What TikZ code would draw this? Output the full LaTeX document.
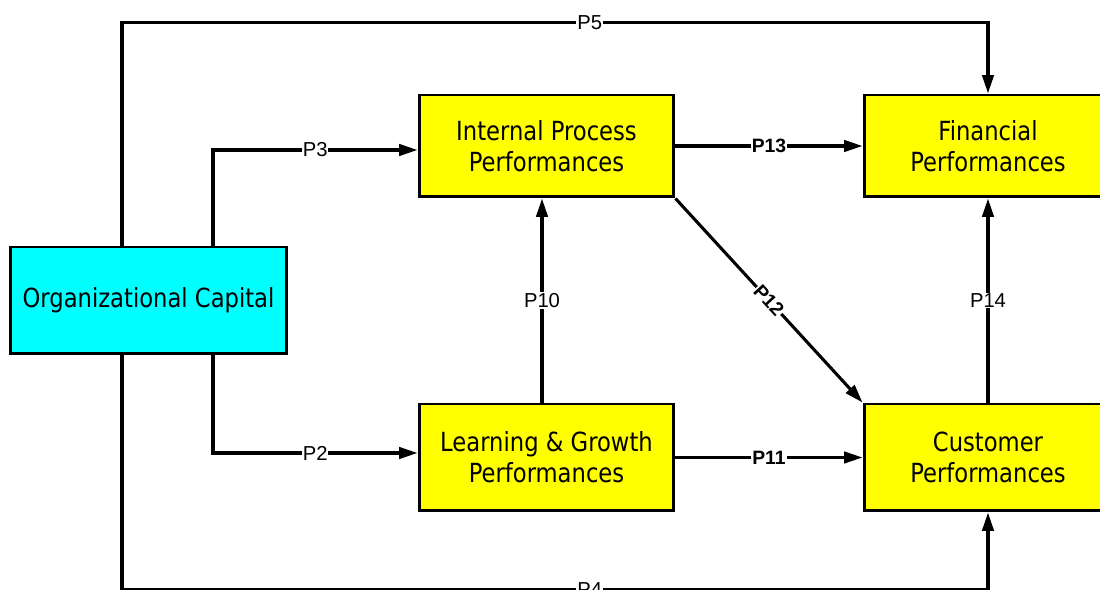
\documentclass[tikz,border=0pt]{standalone}
\usepackage{fontspec}
\setmainfont{Liberation Sans}
\newfontfamily\boxfont[FakeStretch=0.86]{DejaVu Sans}
\usetikzlibrary{arrows.meta,positioning}
\definecolor{bscyan}{RGB}{0,255,255}
\definecolor{bsyellow}{RGB}{255,255,0}

\begin{document}
\begin{tikzpicture}[
  x=0.02cm, y=-0.02cm,
  every node/.style={font=\fontsize{11.5}{13}\selectfont},
  box/.style={draw=black,line width=1.7pt,fill=bsyellow,align=center,
              minimum width=4.96cm,minimum height=2.04cm,inner sep=0pt,
              font=\boxfont\fontsize{15}{17.5}\selectfont},
  orgbox/.style={box,fill=bscyan,minimum width=5.54cm,minimum height=2.14cm},
  arr/.style={line width=1.75pt,-{Triangle[length=10.5pt,width=6.5pt]}},
  lbl/.style={fill=white,inner sep=0.5pt},
  blbl/.style={lbl,font=\fontsize{11}{13}\selectfont\bfseries}
]
  \useasboundingbox (0,0) rectangle (1100,590);

  \node[orgbox] (org) at (148.5,300.5) {Organizational Capital};
  \node[box,minimum width=5.1cm] (ipp) at (546.5,146) {Internal Process\\Performances};
  \node[box,minimum width=5.1cm,minimum height=2.14cm] (lgp) at (546.5,457.5) {Learning \& Growth\\Performances};
  \node[box] (fin) at (988,146) {Financial\\Performances};
  \node[box,minimum height=2.14cm] (cus) at (988,457.5) {Customer\\Performances};

  % from organizational capital
  \draw[arr] ([xshift=-0.53cm]org.north) |- node[lbl,pos=0.77] {P5} ([yshift=1.42cm]fin.north) -- (fin.north);
  \draw[arr] ([xshift=1.29cm]org.north) |- node[lbl,pos=0.75] {P3} ([yshift=-0.08cm]ipp.west);
  \draw[arr] ([xshift=1.29cm]org.south) |- node[lbl,pos=0.75] {P2} ([yshift=0.09cm]lgp.west);
  \draw[arr] ([xshift=-0.53cm]org.south) |- node[lbl,pos=0.77] {P4} ([yshift=-1.54cm]cus.south) -- (cus.south);

  % between performances
  \draw[arr] ([xshift=-0.09cm]lgp.north) -- node[lbl] {P10} ([xshift=-0.09cm]ipp.south);
  \draw[arr] (ipp.east) -- node[blbl] {P13} (fin.west);
  \draw[arr] (lgp.east) -- node[blbl] {P11} (cus.west);
  \draw[arr] (ipp.south east) -- node[blbl,sloped] {P12} (cus.north west);
  \draw[arr] (cus.north) -- node[lbl] {P14} (fin.south);
\end{tikzpicture}
\end{document}
